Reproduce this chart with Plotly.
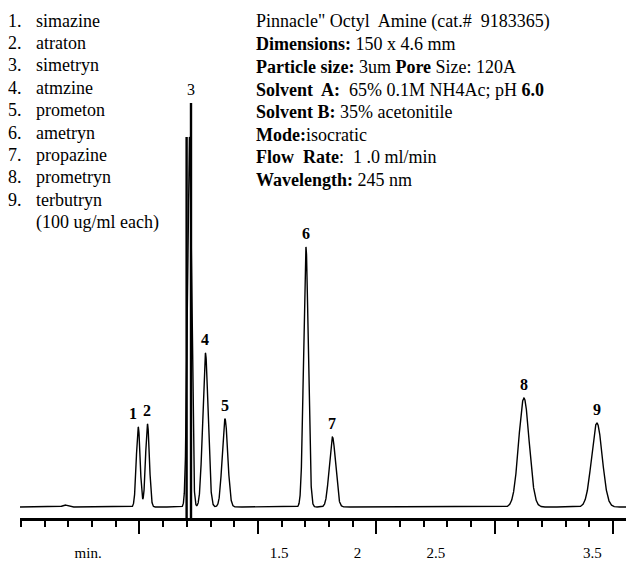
import numpy as np
import plotly.graph_objects as go

# ---------------- data ----------------
PEAK_IDS = ["1", "2", "3", "4", "5", "6", "7", "8", "9"]
COMPOUNDS = ["simazine", "atraton", "simetryn", "atmzine", "prometon",
             "ametryn", "propazine", "prometryn", "terbutryn"]
RET_TIME = [0.600, 0.659, 0.927, 1.029, 1.154, 1.671, 1.840, 3.063, 3.529]   # min
HEIGHT = [80, 83, 370, 154, 88, 260, 70, 109, 84]                            # detector units
SIGMA = [0.0121, 0.0121, 0.0128, 0.0172, 0.0175, 0.0150, 0.0200, 0.0332, 0.0338]

# small unlabeled disturbance near the start
MINOR_RT = [0.132]
MINOR_H = [2]
MINOR_SIGMA = [0.016]

# over-range pen strokes of peak 3 (run down to the axis)
STROKE_T = [0.909, 0.937]
STROKE_TOP = [370, 404]

MAJOR_TICKS = [0.608, 1.364, 2.120, 2.876, 3.632]
MINOR_TICK_STEP = 0.1512
TICK_LABELS = ["min.", "1.5", "2", "2.5", "3.5"]
TICK_VALUES = [0.28, 1.5, 2.0, 2.5, 3.5]

NB = "\u00a0"
CONDITIONS = [
    f'Pinnacle" Octyl{NB} Amine (cat.#{NB} 9183365)',
    "<b>Dimensions:</b> 150 x 4.6 mm",
    "<b>Particle size:</b> 3um <b>Pore</b> Size: 120A",
    f"<b>Solvent{NB} A:</b>{NB} 65% 0.1M NH4Ac; pH <b>6.0</b>",
    "<b>Solvent B:</b> 35% acetonitile",
    "<b>Mode:</b>isocratic",
    f"<b>Flow{NB} Rate</b>:{NB} 1 .0 ml/min",
    "<b>Wavelength:</b> 245 nm",
]
CONC_NOTE = "(100 ug/ml each)"

# ---------------- figure ----------------
# the page body has an 8 px margin, so the figure is drawn 8 px smaller and
# reference-pixel positions are shifted by OFF
OFF = 8
W, H = 634 - OFF, 567 - OFF
X_RANGE = [-0.155, 3.766]
Y_RANGE = [-11, 499]
FONT = "Liberation Serif"

t = np.arange(X_RANGE[0], X_RANGE[1] + 0.0005, 0.0005)
signal = np.zeros_like(t)
for rt, h, s in zip(RET_TIME + MINOR_RT, HEIGHT + MINOR_H, SIGMA + MINOR_SIGMA):
    signal += h * np.exp(-0.5 * ((t - rt) / s) ** 2)

fig = go.Figure()
fig.add_trace(go.Scatter(x=t, y=signal, mode="lines",
                         line=dict(color="black", width=1.4),
                         hoverinfo="skip", showlegend=False))

sx, sy = [], []
for st, top in zip(STROKE_T, STROKE_TOP):
    sx += [st, st, None]
    sy += [Y_RANGE[0], top, None]
fig.add_trace(go.Scatter(x=sx, y=sy, mode="lines",
                         line=dict(color="black", width=2.4),
                         hoverinfo="skip", showlegend=False))

ann = []
# peak labels
for i, pid in enumerate(PEAK_IDS):
    ytop = max(STROKE_TOP) if pid == "3" else HEIGHT[i]
    ann.append(dict(x=RET_TIME[i] + (0.01 if pid == "3" else 0), y=ytop,
                    xref="x", yref="y", text=pid if pid == "3" else f"<b>{pid}</b>",
                    showarrow=False, yanchor="bottom", yshift=3,
                    xshift=-5 if pid == "1" else 0,
                    font=dict(family=FONT, size=16, color="black")))


def px(x):
    return (x - OFF) / W


def py(y):
    return 1 - (y - OFF) / H


# compound list
for i, name in enumerate(COMPOUNDS):
    yc = 20.7 + 22.4 * i
    ann.append(dict(x=px(23), y=py(yc), xref="paper", yref="paper",
                    text=f"{i + 1}.", showarrow=False, xanchor="right",
                    yanchor="middle", borderpad=0,
                    font=dict(family=FONT, size=18, color="black")))
    ann.append(dict(x=px(34), y=py(yc), xref="paper", yref="paper",
                    text=name, showarrow=False, xanchor="left",
                    yanchor="middle", font=dict(family=FONT, size=18, color="black")))
ann.append(dict(x=px(34), y=py(20.7 + 22.4 * 9), xref="paper", yref="paper",
                text=CONC_NOTE, showarrow=False, xanchor="left", yanchor="middle",
                font=dict(family=FONT, size=18, color="black")))

# conditions block
for i, line in enumerate(CONDITIONS):
    yc = 21.7 + 22.6 * i
    ann.append(dict(x=px(254), y=py(yc), xref="paper", yref="paper",
                    text=line, showarrow=False, xanchor="left", yanchor="middle",
                    font=dict(family=FONT, size=18, color="black")))

fig.update_layout(
    width=W, height=H,
    margin=dict(l=0, r=0, t=0, b=0),
    paper_bgcolor="white", plot_bgcolor="white",
    showlegend=False,
    annotations=ann,
    xaxis=dict(
        domain=[(20 - OFF) / W, 1], range=X_RANGE, anchor="y",
        tickmode="array", tickvals=MAJOR_TICKS, showticklabels=False,
        ticks="outside", ticklen=13, tickwidth=2, tickcolor="black",
        minor=dict(tickmode="linear", tick0=MAJOR_TICKS[0], dtick=MINOR_TICK_STEP,
                   ticks="outside", ticklen=6, tickwidth=1.5, tickcolor="black",
                   showgrid=False),
        showline=True, linecolor="black", linewidth=3,
        showgrid=False, zeroline=False, automargin=False, fixedrange=True,
    ),
    xaxis2=dict(
        overlaying="x", anchor="y", side="bottom", range=X_RANGE,
        tickmode="array", tickvals=TICK_VALUES, ticktext=TICK_LABELS,
        ticks="outside", ticklen=21, tickcolor="rgba(0,0,0,0)",
        tickfont=dict(family=FONT, size=15, color="black"),
        showline=False, showgrid=False, zeroline=False, automargin=False,
    ),
    yaxis=dict(domain=[(567 - 518) / H, 1], range=Y_RANGE, visible=False,
               showgrid=False, zeroline=False, automargin=False, fixedrange=True),
)

# invisible trace so xaxis2 is rendered
fig.add_trace(go.Scatter(x=[X_RANGE[0]], y=[Y_RANGE[0]], xaxis="x2", yaxis="y",
                         mode="markers", marker=dict(opacity=0),
                         hoverinfo="skip", showlegend=False))

fig.write_html("out.html")
